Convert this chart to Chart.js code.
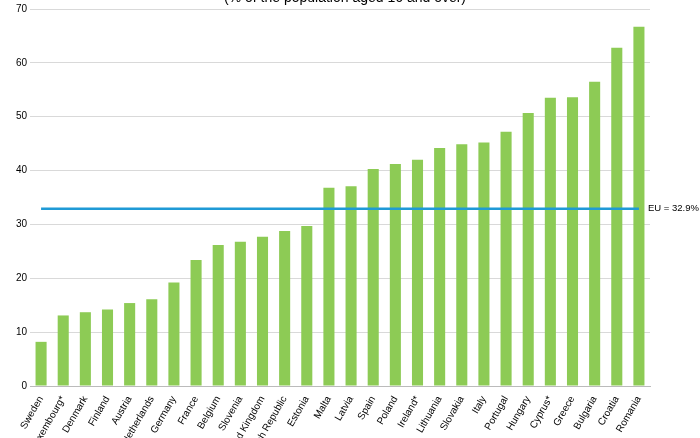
<!DOCTYPE html><html><head><script src="https://cdn.jsdelivr.net/npm/chart.js@4"></script>
<style>body{margin:0;background:#fff}#w{width:700px;height:438px}</style></head><body><div id="w"><canvas id="c"></canvas></div>
<script>
const categories=["Sweden","Luxembourg*","Denmark","Finland","Austria","Netherlands","Germany","France","Belgium","Slovenia","United Kingdom","Czech Republic","Estonia","Malta","Latvia","Spain","Poland","Ireland*","Lithuania","Slovakia","Italy","Portugal","Hungary","Cyprus*","Greece","Bulgaria","Croatia","Romania"];
const values=[8.2,13.1,13.7,14.2,15.4,16.1,19.2,23.4,26.2,26.8,27.7,28.8,29.7,36.8,37.1,40.3,41.2,42.0,44.2,44.9,45.2,47.2,50.7,53.5,53.6,56.5,62.8,66.7];
const euAverage=32.9;
const euLabel="EU = 32.9%";
const titleText="(% of the population aged 16 and over)";
Chart.defaults.font.family="Liberation Sans, Arial";
const extra={id:'extra',afterDraw(ch){const c=ch.ctx,y=ch.scales.y.getPixelForValue(euAverage);c.save();c.font="9.5px Liberation Sans";c.fillStyle="#000";c.textBaseline="middle";c.fillText(euLabel,648,y);c.font="14px Liberation Sans";c.textAlign="center";c.textBaseline="alphabetic";c.fillText(titleText,345,2);c.restore();}};
new Chart(document.getElementById('c'),{type:'bar',data:{labels:categories,datasets:[
{type:'line',data:categories.map(()=>euAverage),borderColor:'#1F9AD6',borderWidth:2.5,pointRadius:0,order:0},
{data:values,backgroundColor:'#8DCB55',barPercentage:0.5,categoryPercentage:1,order:1}]},
options:{responsive:true,maintainAspectRatio:false,animation:false,plugins:{legend:{display:false},tooltip:{enabled:false}},
layout:{padding:{top:7,right:50,left:0,bottom:0}},
scales:{x:{grid:{display:false},border:{color:'#bbb'},ticks:{color:'#000',font:{size:10},minRotation:60,maxRotation:60,autoSkip:false,padding:0},
afterFit(s){s.height=52;s.paddingLeft=0;s.paddingRight=0;}},
y:{min:0,max:70,ticks:{stepSize:10,color:'#000',font:{size:10}},grid:{color:'#d9d9d9',drawTicks:false},border:{display:false},afterFit(s){s.width=30;}}}},
plugins:[extra]});
</script></body></html>
